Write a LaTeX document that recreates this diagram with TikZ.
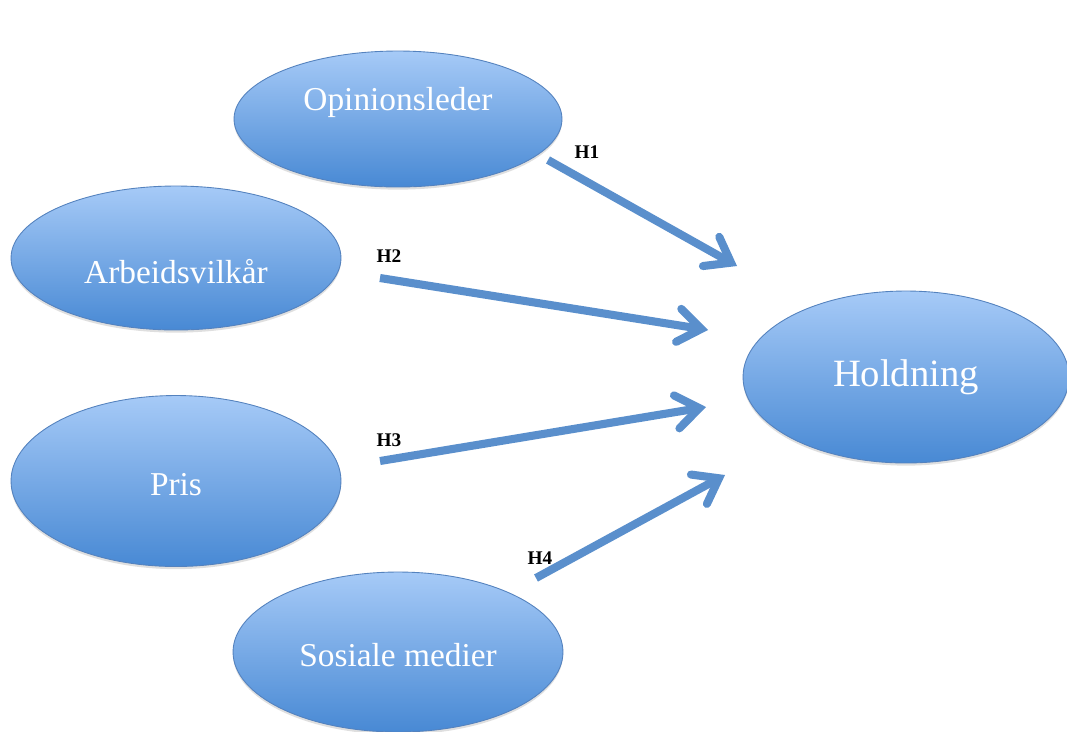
\documentclass[tikz,border=0pt]{standalone}
\usepackage{fontspec}
\setmainfont{Liberation Serif}
\usetikzlibrary{arrows.meta,shapes.geometric,shadows}
\definecolor{topblue}{RGB}{166,202,247}
\definecolor{botblue}{RGB}{72,137,212}
\definecolor{edgeblue}{RGB}{84,130,190}
\definecolor{arrblue}{RGB}{90,143,204}
\begin{document}
\begin{tikzpicture}[x=0.02cm,y=-0.02cm,
  ell/.style={ellipse, draw=edgeblue, line width=0.5pt, top color=topblue, bottom color=botblue,
    inner sep=0pt, drop shadow={opacity=0.25,shadow xshift=0pt,shadow yshift=-1.5pt}},
  txt/.style={text=white, font=\fontsize{19}{22}\selectfont},
  bigtxt/.style={text=white, font=\fontsize{22}{26}\selectfont},
  hyp/.style={font=\bfseries\fontsize{11}{13}\selectfont, text=black, inner sep=0pt},
  arr/.style={draw=arrblue, line width=4.6pt,
    -{Straight Barb[length=13pt,width=19pt,line cap=round]}}]
\fill[white] (0,0) rectangle (1067,731);
\clip (0,0) rectangle (1067,731);

\node[ell, minimum width=6.56cm, minimum height=2.72cm,
  label={[txt,yshift=0.34cm]center:Opinionsleder}] (op) at (398,119) {};
\node[ell, minimum width=6.6cm, minimum height=2.88cm,
  label={[txt,yshift=-0.28cm]center:Arbeidsvilkår}] (ar) at (176,258) {};
\node[ell, minimum width=6.6cm, minimum height=3.42cm,
  label={[txt,yshift=-0.08cm]center:Pris}] (pr) at (176,481) {};
\node[ell, minimum width=6.6cm, minimum height=3.2cm,
  label={[txt,yshift=-0.06cm]center:Sosiale medier}] (so) at (398,652) {};
\node[ell, minimum width=6.52cm, minimum height=3.44cm,
  label={[bigtxt]center:Holdning}] (ho) at (906,377) {};

\coordinate (a1s) at (548,160); \coordinate (a1e) at (737,266);
\coordinate (a2s) at (380,278); \coordinate (a2e) at (708,330);
\coordinate (a3s) at (380,461); \coordinate (a3e) at (706,407);
\coordinate (a4s) at (536,578); \coordinate (a4e) at (725,475);

\draw[arr] (a1s) -- (a1e);
\draw[arr] (a2s) -- (a2e);
\draw[arr] (a3s) -- (a3e);
\draw[arr] (a4s) -- (a4e);

\node[hyp] (h1) at (587,152) {H1};
\node[hyp] (h2) at (389,256) {H2};
\node[hyp] (h3) at (389,440) {H3};
\node[hyp] (h4) at (540,558) {H4};
\end{tikzpicture}
\end{document}
